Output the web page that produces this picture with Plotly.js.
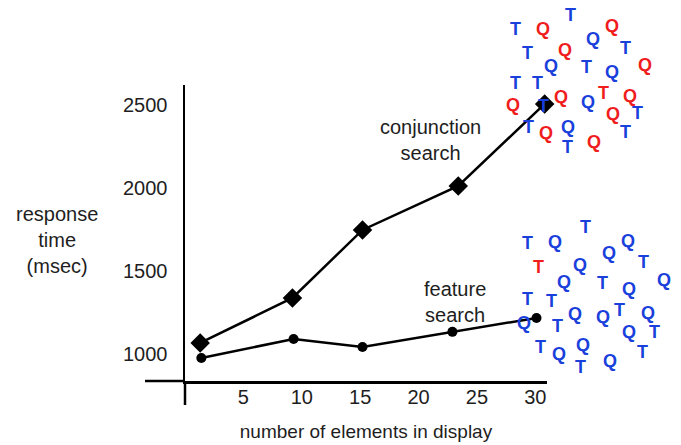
<!DOCTYPE html>
<html>
<head>
<meta charset="utf-8">
<script src="https://cdn.plot.ly/plotly-3.0.1.min.js"></script>
<style>html,body{margin:0;padding:0;background:#fff;}#chart{width:681px;height:445px;}</style>
</head>
<body>
<div id="chart"></div>
<script>
// ---- data ----
var conjunctionX = [1.3, 9.2, 15.2, 23.4, 30.8];
var conjunctionY = [1066, 1337, 1747, 2012, 2506];
var featureX = [1.4, 9.3, 15.2, 22.9, 30.1];
var featureY = [976, 1090, 1042, 1133, 1217];
var yTicks = [1000, 1500, 2000, 2500];
var xTicks = [5, 10, 15, 20, 25, 30];

// ---- decorative letter displays (pixel placement) ----
var BLUE = '#1a40dc', RED = '#f01d1d';
var topLetters = [
  ['T','b',515,29],['Q','r',543,29],['T','b',570,15],['Q','r',612,26],['Q','b',593,39],
  ['T','b',527,53],['Q','r',565,50],['T','b',625,48],['Q','b',551,66],['T','b',586,67],
  ['Q','b',612,72],['Q','r',645,65],['T','b',515,83],['T','b',537,83],['Q','r',513,105],
  ['T','b',543,106],['Q','r',561,97],['Q','b',588,102],['T','r',603,93],['Q','r',630,96],
  ['Q','r',613,114],['T','b',637,113],['T','b',528,127],['Q','r',546,133],['Q','b',568,127],
  ['T','b',625,132],['T','b',567,147],['Q','r',594,142]
];
var bottomLetters = [
  ['T','b',527,243],['Q','b',555,242],['T','b',585,227],['Q','b',628,241],['Q','b',609,253],
  ['T','r',538,267],['Q','b',580,265],['T','b',643,262],['Q','b',564,282],['T','b',602,283],
  ['Q','b',629,289],['Q','b',664,280],['T','b',527,299],['T','b',551,301],['Q','b',575,314],
  ['Q','b',603,317],['T','b',619,310],['Q','b',648,313],['Q','b',524,323],['T','b',557,326],
  ['Q','b',629,332],['T','b',654,332],['T','b',540,347],['Q','b',559,354],['Q','b',583,345],
  ['T','b',580,367],['Q','b',610,361],['T','b',642,352]
];

var L = 185, R = 547, T = 85, B = 381, W = 681, H = 445;
function px2paperX(p){ return (p - L) / (R - L); }
function px2paperY(p){ return (B - p) / (B - T); }

var FONT = 'Liberation Sans, Arial, Helvetica, sans-serif';
var TXT = '#1e1e1e';

var annotations = [];
topLetters.concat(bottomLetters).forEach(function(d){
  annotations.push({
    xref:'paper', yref:'paper', x:px2paperX(d[2]), y:px2paperY(d[3]),
    text:d[0], showarrow:false, xanchor:'center', yanchor:'middle',
    font:{family:FONT, size:18, weight:'bold', color: d[1]==='r'?RED:BLUE}
  });
});
annotations.push({xref:'paper', yref:'paper', x:px2paperX(57), y:px2paperY(240),
  text:'response<br>time<br>(msec)', showarrow:false, xanchor:'center', yanchor:'middle',
  font:{family:FONT, size:20, color:TXT}});
annotations.push({xref:'paper', yref:'paper', x:px2paperX(430), y:px2paperY(140),
  text:'conjunction<br>search', showarrow:false, xanchor:'center', yanchor:'middle',
  font:{family:FONT, size:20, color:TXT}});
annotations.push({xref:'paper', yref:'paper', x:px2paperX(455), y:px2paperY(302),
  text:'feature<br>search', showarrow:false, xanchor:'center', yanchor:'middle',
  font:{family:FONT, size:20, color:TXT}});

var traces = [
  {x:conjunctionX, y:conjunctionY, mode:'lines+markers', cliponaxis:false,
   line:{color:'#000', width:2.5}, marker:{symbol:'diamond', size:15, color:'#000'}},
  {x:featureX, y:featureY, mode:'lines+markers', cliponaxis:false,
   line:{color:'#000', width:2.5}, marker:{symbol:'circle', size:10, color:'#000'}}
];

var layout = {
  width:W, height:H, showlegend:false,
  paper_bgcolor:'#fff', plot_bgcolor:'#fff',
  margin:{l:L, r:W-R, t:T, b:H-B, pad:0},
  xaxis:{range:[0, 31.0], tickvals:xTicks, ticks:'', showgrid:false, zeroline:false,
    showline:true, linecolor:'#000', linewidth:2.5, ticklabelstandoff:-4,
    tickfont:{family:FONT, size:20, color:TXT},
    title:{text:'number of elements in display', standoff:18, font:{family:FONT, size:19, color:TXT}}},
  yaxis:{range:[837, 2620], tickvals:yTicks, ticks:'', showgrid:false, zeroline:false,
    showline:true, linecolor:'#000', linewidth:2.5, ticklabelstandoff:11,
    tickfont:{family:FONT, size:20, color:TXT}},
  shapes:[
    {type:'line', xref:'paper', yref:'paper', x0:px2paperX(145), x1:0, y0:0, y1:0,
     line:{color:'#000', width:2.5}},
    {type:'line', xref:'paper', yref:'paper', x0:0, x1:0, y0:0, y1:px2paperY(405),
     line:{color:'#000', width:2.5}}
  ],
  annotations:annotations
};

Plotly.newPlot('chart', traces, layout, {displayModeBar:false, staticPlot:true});
</script>
</body>
</html>
